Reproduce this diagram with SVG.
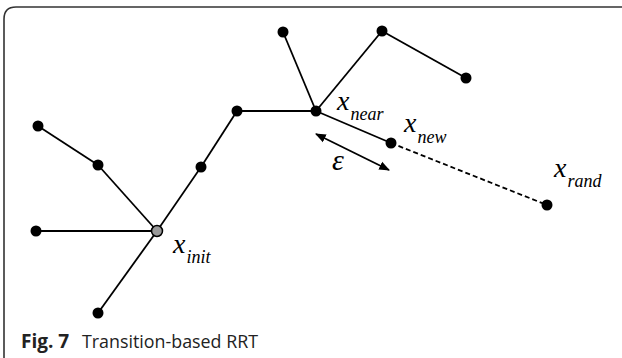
<svg xmlns="http://www.w3.org/2000/svg" width="622" height="358" viewBox="0 0 622 358">
<style>
.e{stroke:#000;stroke-width:1.8;fill:none}
.n{fill:#000}
.m{font-family:"Liberation Serif","Times New Roman",serif;font-style:italic;fill:#000}
.x{font-size:28px}
.s{font-size:18px}
.cap{font-family:"Open Sans","Noto Sans",sans-serif;font-size:19px;fill:#222}
</style>
<defs>
<marker id="ah" viewBox="0 0 10 10" refX="9" refY="5" markerWidth="6" markerHeight="6" orient="auto-start-reverse" markerUnits="strokeWidth">
<path d="M0,1 L10,5 L0,9 z" fill="#000"/>
</marker>
</defs>
<path d="M4,358 V19 Q4,7 16,7 H622" fill="none" stroke="#333" stroke-width="1.6"/>
<g id="connectors">
<line class="e" x1="283" y1="32" x2="316" y2="111"/>
<line class="e" x1="382" y1="31" x2="316" y2="111"/>
<line class="e" x1="382" y1="31" x2="466" y2="78"/>
<line class="e" x1="237" y1="111" x2="316" y2="111"/>
<line class="e" x1="316" y1="111" x2="391" y2="143"/>
<line class="e" x1="201" y1="167" x2="237" y2="111"/>
<line class="e" x1="157" y1="231" x2="201" y2="167"/>
<line class="e" x1="38" y1="126" x2="98" y2="165"/>
<line class="e" x1="98" y1="165" x2="157" y2="231"/>
<line class="e" x1="36" y1="231" x2="157" y2="231"/>
<line class="e" x1="157" y1="231" x2="98" y2="313"/>
<line class="e" x1="391" y1="143" x2="547" y2="205" stroke-dasharray="5,3"/>
<line class="e" x1="316" y1="134" x2="389" y2="170" marker-start="url(#ah)" marker-end="url(#ah)"/>
</g>
<g id="n1"><circle class="n" cx="283" cy="32" r="5.5"/></g>
<g id="n2"><circle class="n" cx="382" cy="31" r="5.5"/></g>
<g id="n3"><circle class="n" cx="466" cy="78" r="5.5"/></g>
<g id="near"><circle class="n" cx="316" cy="111" r="5.5"/>
<text class="m" x="337" y="110"><tspan class="x">x</tspan><tspan class="s" dx="1" dy="10">near</tspan></text></g>
<g id="n4"><circle class="n" cx="237" cy="111" r="5.5"/></g>
<g id="n5"><circle class="n" cx="38" cy="126" r="5.5"/></g>
<g id="n6"><circle class="n" cx="98" cy="165" r="5.5"/></g>
<g id="n7"><circle class="n" cx="201" cy="167" r="5.5"/></g>
<g id="new"><circle class="n" cx="391" cy="143" r="5.5"/>
<text class="m" x="404" y="132"><tspan class="x">x</tspan><tspan class="s" dx="1" dy="11">new</tspan></text></g>
<g id="rand"><circle class="n" cx="547" cy="205" r="5.5"/>
<text class="m" x="554" y="177"><tspan class="x">x</tspan><tspan class="s" dx="1" dy="10">rand</tspan></text></g>
<g id="n8"><circle class="n" cx="36" cy="231" r="5.5"/></g>
<g id="init"><circle cx="157" cy="231" r="5.5" fill="#999" stroke="#000" stroke-width="1.5"/>
<text class="m" x="173" y="253"><tspan class="x">x</tspan><tspan class="s" dx="1" dy="10">init</tspan></text></g>
<g id="n9"><circle class="n" cx="98" cy="313" r="5.5"/></g>
<text class="m" x="332" y="170" font-size="30">ε</text>
<text class="cap" x="21" y="348" font-weight="bold">Fig. 7</text>
<text class="cap" x="82" y="348" textLength="176" lengthAdjust="spacingAndGlyphs">Transition-based RRT</text>
</svg>
